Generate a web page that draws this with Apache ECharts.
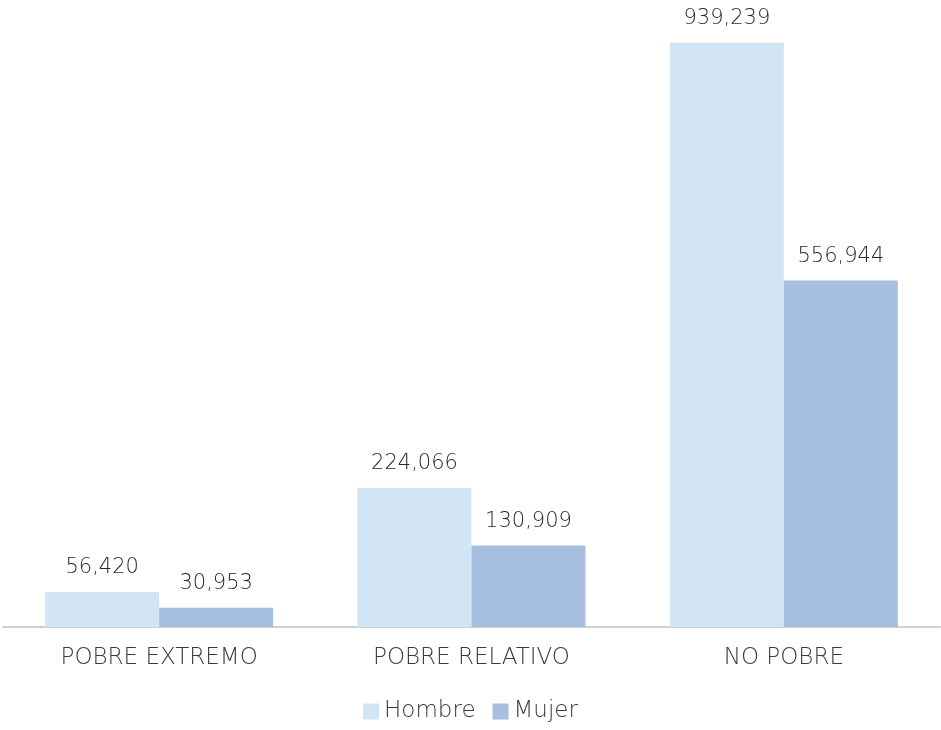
<!DOCTYPE html>
<html><head><meta charset="utf-8">
<script src="https://cdn.jsdelivr.net/npm/echarts@6/dist/echarts.min.js"></script>
<style>html,body{margin:0;padding:0;background:#fff}#c{width:941px;height:730px}</style>
</head><body><div id="c"></div>
<script>
const categories = ['POBRE EXTREMO', 'POBRE RELATIVO', 'NO POBRE'];
const hombre = [56420, 224066, 939239];
const mujer = [30953, 130909, 556944];
const seriesNames = ['Hombre', 'Mujer'];

const chart = echarts.init(document.getElementById('c'));
const font = '"DejaVu Sans", sans-serif';
const lbl = {
  show: true, position: 'top', distance: 14,
  color: '#2a2a2a', fontSize: 21, fontWeight: 200, fontFamily: font,
  formatter: p => p.value.toLocaleString('en-US')
};
chart.setOption({
  animation: false,
  textStyle: { fontFamily: font },
  grid: { left: 3, right: 1, top: 5, bottom: 103, containLabel: false },
  legend: {
    bottom: 2, left: 'center', itemWidth: 16, itemHeight: 16, itemGap: 17,
    icon: 'rect',
    textStyle: { color: '#3a3a3a', fontSize: 23, fontWeight: 200, fontFamily: font },
    data: seriesNames
  },
  xAxis: {
    type: 'category', data: categories,
    axisLine: { lineStyle: { color: '#d0d0d0', width: 2 } },
    axisTick: { show: false },
    axisLabel: { color: '#3a3a3a', fontSize: 23, fontWeight: 200, fontFamily: font, margin: 20 }
  },
  yAxis: {
    type: 'value', min: 0, max: 1000000, show: false,
    splitLine: { show: false }
  },
  series: [
    { name: seriesNames[0], type: 'bar', data: hombre, barWidth: 114, barGap: '0%',
      itemStyle: { color: '#d2e5f4' }, label: lbl },
    { name: seriesNames[1], type: 'bar', data: mujer, barWidth: 114, barGap: '0%',
      itemStyle: { color: '#a6bfe0' }, label: lbl }
  ]
});
</script></body></html>
